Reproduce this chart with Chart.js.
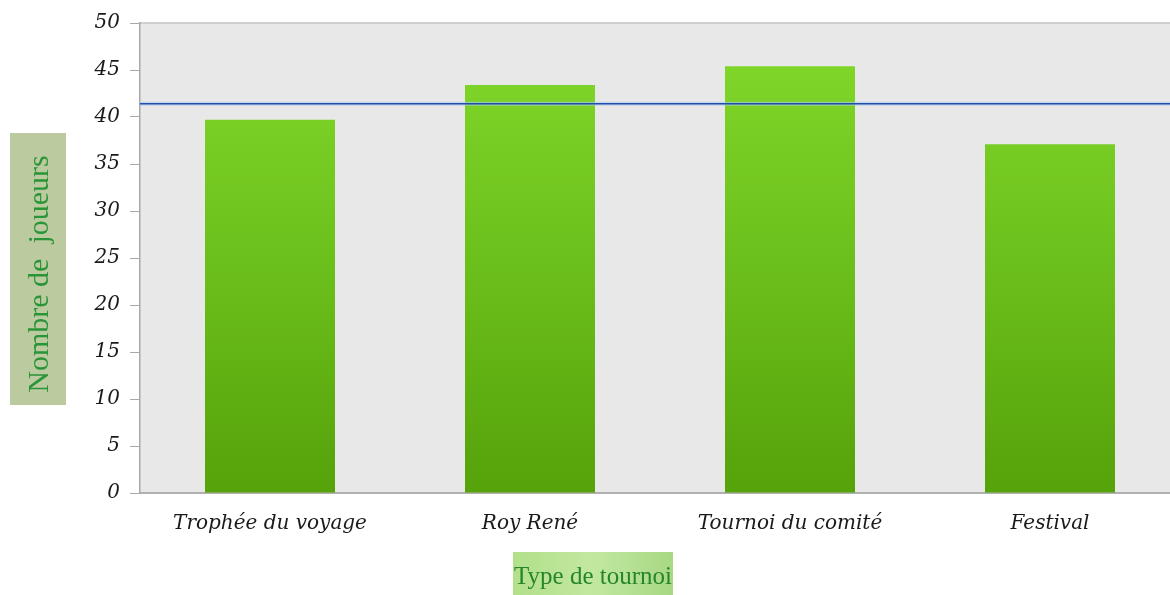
<!DOCTYPE html>
<html>
<head>
<meta charset="utf-8">
<script src="https://cdn.jsdelivr.net/npm/chart.js@4.4.1/dist/chart.umd.min.js"></script>
<style>
  html, body { margin: 0; padding: 0; background: #fff; overflow: hidden; }
  #wrap { position: relative; width: 1190px; height: 595px; }
</style>
</head>
<body>
<div id="wrap"><canvas id="tournois"></canvas></div>
<script>
var categories = ["Trophée du voyage", "Roy René", "Tournoi du comité", "Festival"];
var joueurs = [39.7, 43.4, 45.4, 37.1];
var yTicks = [0, 5, 10, 15, 20, 25, 30, 35, 40, 45, 50];
var titreY = "Nombre de  joueurs";
var titreX = "Type de tournoi";

function moyenne(arr) {
  var s = 0;
  for (var i = 0; i < arr.length; i++) s += arr[i];
  return s / arr.length;
}

// fond gris de la zone du graphique + bordure haute
var fondPlugin = {
  id: "fond",
  beforeDraw: function (chart) {
    var a = chart.chartArea, ctx = chart.ctx;
    ctx.save();
    ctx.fillStyle = "#e8e8e8";
    ctx.fillRect(a.left, a.top, a.right - a.left, a.bottom - a.top);
    ctx.strokeStyle = "#cfcfcf";
    ctx.lineWidth = 2;
    ctx.beginPath();
    ctx.moveTo(a.left, a.top);
    ctx.lineTo(a.right, a.top);
    ctx.stroke();
    ctx.restore();
  }
};

// ligne de moyenne + titres des axes dans leurs cadres verts
var decorPlugin = {
  id: "decor",
  afterDatasetsDraw: function (chart) {
    var a = chart.chartArea, ctx = chart.ctx;
    var y = chart.scales.y.getPixelForValue(moyenne(joueurs));
    ctx.save();
    ctx.strokeStyle = "rgba(170,200,240,0.6)";
    ctx.lineWidth = 4;
    ctx.beginPath();
    ctx.moveTo(a.left, y);
    ctx.lineTo(a.right, y);
    ctx.stroke();
    ctx.strokeStyle = "#1f4fa8";
    ctx.lineWidth = 1.5;
    ctx.beginPath();
    ctx.moveTo(a.left, y);
    ctx.lineTo(a.right, y);
    ctx.stroke();
    ctx.restore();
  },
  afterDraw: function (chart) {
    var ctx = chart.ctx;
    ctx.save();
    // titre axe Y
    ctx.fillStyle = "#bccb9f";
    ctx.fillRect(10, 133, 56, 272);
    ctx.translate(40, 274);
    ctx.rotate(-Math.PI / 2);
    ctx.fillStyle = "#2a9438";
    ctx.font = "30px 'Liberation Serif'";
    ctx.textAlign = "center";
    ctx.textBaseline = "middle";
    ctx.fillText(titreY, 0, 0);
    ctx.restore();

    // titre axe X
    ctx.save();
    var g = ctx.createLinearGradient(513, 0, 673, 0);
    g.addColorStop(0, "#b2e08a");
    g.addColorStop(0.5, "#c2e8a0");
    g.addColorStop(1, "#a8d884");
    ctx.fillStyle = g;
    ctx.fillRect(513, 552, 160, 45);
    ctx.fillStyle = "#26862a";
    ctx.font = "25px 'Liberation Serif'";
    ctx.textAlign = "center";
    ctx.textBaseline = "middle";
    ctx.fillText(titreX, 593, 577);
    ctx.restore();
  }
};

var config = {
  type: "bar",
  data: {
    labels: categories,
    datasets: [{
      label: "Nombre de joueurs",
      data: joueurs,
      backgroundColor: function (context) {
        var a = context.chart.chartArea;
        if (!a) return "#6cc01c";
        var g = context.chart.ctx.createLinearGradient(0, a.top, 0, a.bottom);
        g.addColorStop(0, "#84da2c");
        g.addColorStop(0.5, "#6cc01c");
        g.addColorStop(1, "#56a20a");
        return g;
      },
      borderWidth: 0,
      barPercentage: 0.5,
      categoryPercentage: 1.0
    }]
  },
  options: {
    responsive: false,
    animation: false,
    layout: { padding: { left: 10, right: 10, top: 23, bottom: 0 } },
    plugins: {
      legend: { display: false },
      tooltip: { enabled: false },
      title: { display: false }
    },
    scales: {
      x: {
        grid: { display: false, drawTicks: false },
        border: { color: "#b0b0b0", width: 2 },
        ticks: { color: "#1a1a1a", font: { family: "'DejaVu Serif'", style: "italic", size: 20 }, padding: 19 },
        afterFit: function (scale) { scale.height = 102; }
      },
      y: {
        min: 0,
        max: 50,
        afterBuildTicks: function (scale) {
          scale.ticks = yTicks.map(function (v) { return { value: v }; });
        },
        grid: { display: true, drawOnChartArea: false, drawTicks: true, tickLength: 10, color: "#a8a8a8" },
        border: { color: "#a8a8a8", width: 1.5 },
        ticks: { color: "#1a1a1a", font: { family: "'DejaVu Serif'", style: "italic", size: 20 }, padding: 10 },
        afterFit: function (scale) { scale.width = 130; }
      }
    }
  },
  plugins: [fondPlugin, decorPlugin]
};

var canvas = document.getElementById("tournois");
canvas.width = 1190;
canvas.height = 595;
var chart = new Chart(canvas, config);
</script>
</body>
</html>
